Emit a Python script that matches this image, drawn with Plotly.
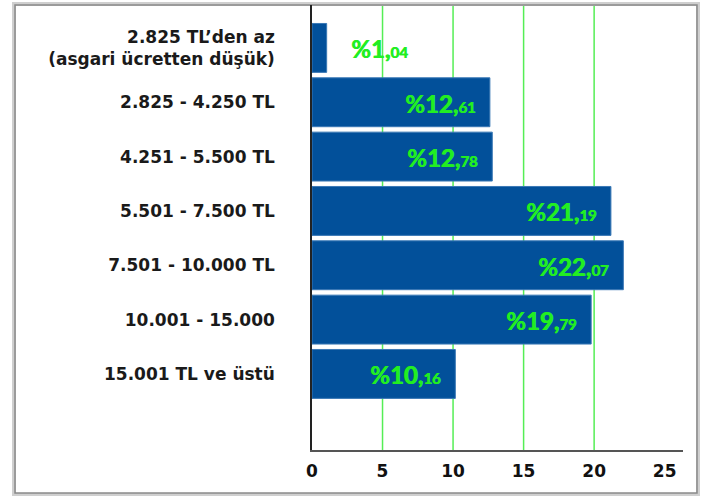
import plotly.graph_objects as go

categories = [
    "2.825 TL’den az<br>(asgari ücretten düşük)",
    "2.825 - 4.250 TL",
    "4.251 - 5.500 TL",
    "5.501 - 7.500 TL",
    "7.501 - 10.000 TL",
    "10.001 - 15.000",
    "15.001 TL ve üstü",
]
values = [1.04, 12.61, 12.78, 21.19, 22.07, 19.79, 10.16]
x_ticks = [0, 5, 10, 15, 20, 25]

positions = list(range(len(categories)))

fig = go.Figure()
fig.add_trace(go.Bar(
    x=values, y=positions, orientation="h",
    width=0.9,
    marker=dict(color="#02509a", line=dict(color="#3a78b5", width=1)),
    hoverinfo="skip",
))

def fmt(v):
    whole, frac = f"{v:.2f}".split(".")
    return f"<b>%{whole},<span style='font-size:15px'>{frac}</span></b>"

annotations = []
for p, v in zip(positions, values):
    inside = v > 5
    annotations.append(dict(
        x=v, y=p, xref="x", yref="y",
        text=fmt(v), showarrow=False,
        xanchor="right" if inside else "left",
        xshift=-12 if inside else 22,
        yshift=-1,
        font=dict(family="Lato", size=24, color="#22ee22",
                  shadow="0.8px 0px 0px #22ee22"),
    ))

fig.update_layout(
    width=703, height=496,
    margin=dict(l=312, r=20, t=5, b=46),
    paper_bgcolor="white", plot_bgcolor="white",
    showlegend=False,
    bargap=0.1,
    annotations=annotations,
    xaxis=dict(
        range=[0, 26.3], tickvals=x_ticks, ticktext=[str(t) for t in x_ticks],
        showgrid=False, zeroline=False,
        showline=True, linecolor="#555555", linewidth=2,
        ticks="", tickfont=dict(family="DejaVu Sans", size=17, color="#111111", weight=700),
        ticklabelstandoff=5,
    ),
    yaxis=dict(
        range=[7.4, -0.79], tickvals=positions, ticktext=categories,
        showgrid=False, zeroline=False,
        showline=True, linecolor="#222222", linewidth=1.5,
        ticks="", tickfont=dict(family="DejaVu Sans", size=17, color="#1a1a1a", weight=700),
        ticklabelstandoff=32,
    ),
    shapes=[
        *[dict(type="line", xref="x", yref="paper", x0=g, x1=g, y0=0, y1=1,
               line=dict(color="#55ee55", width=1.5), layer="below")
          for g in [5, 10, 15, 20]],
        dict(type="rect", xref="paper", yref="paper",
             x0=-298 / 371, x1=1.0 + 15 / 371, y0=-45 / 445, y1=1.0 + 1 / 445,
             line=dict(color="#cfcfcf", width=4), layer="below"),
        dict(type="rect", xref="paper", yref="paper",
             x0=-297 / 371, x1=1.0 + 14 / 371, y0=-43 / 445, y1=1.0,
             line=dict(color="#8a8a8a", width=1.5), layer="below"),
    ],
)

fig.write_html("out.html", config={"displayModeBar": False},
               post_script="document.body.style.margin='0';")
